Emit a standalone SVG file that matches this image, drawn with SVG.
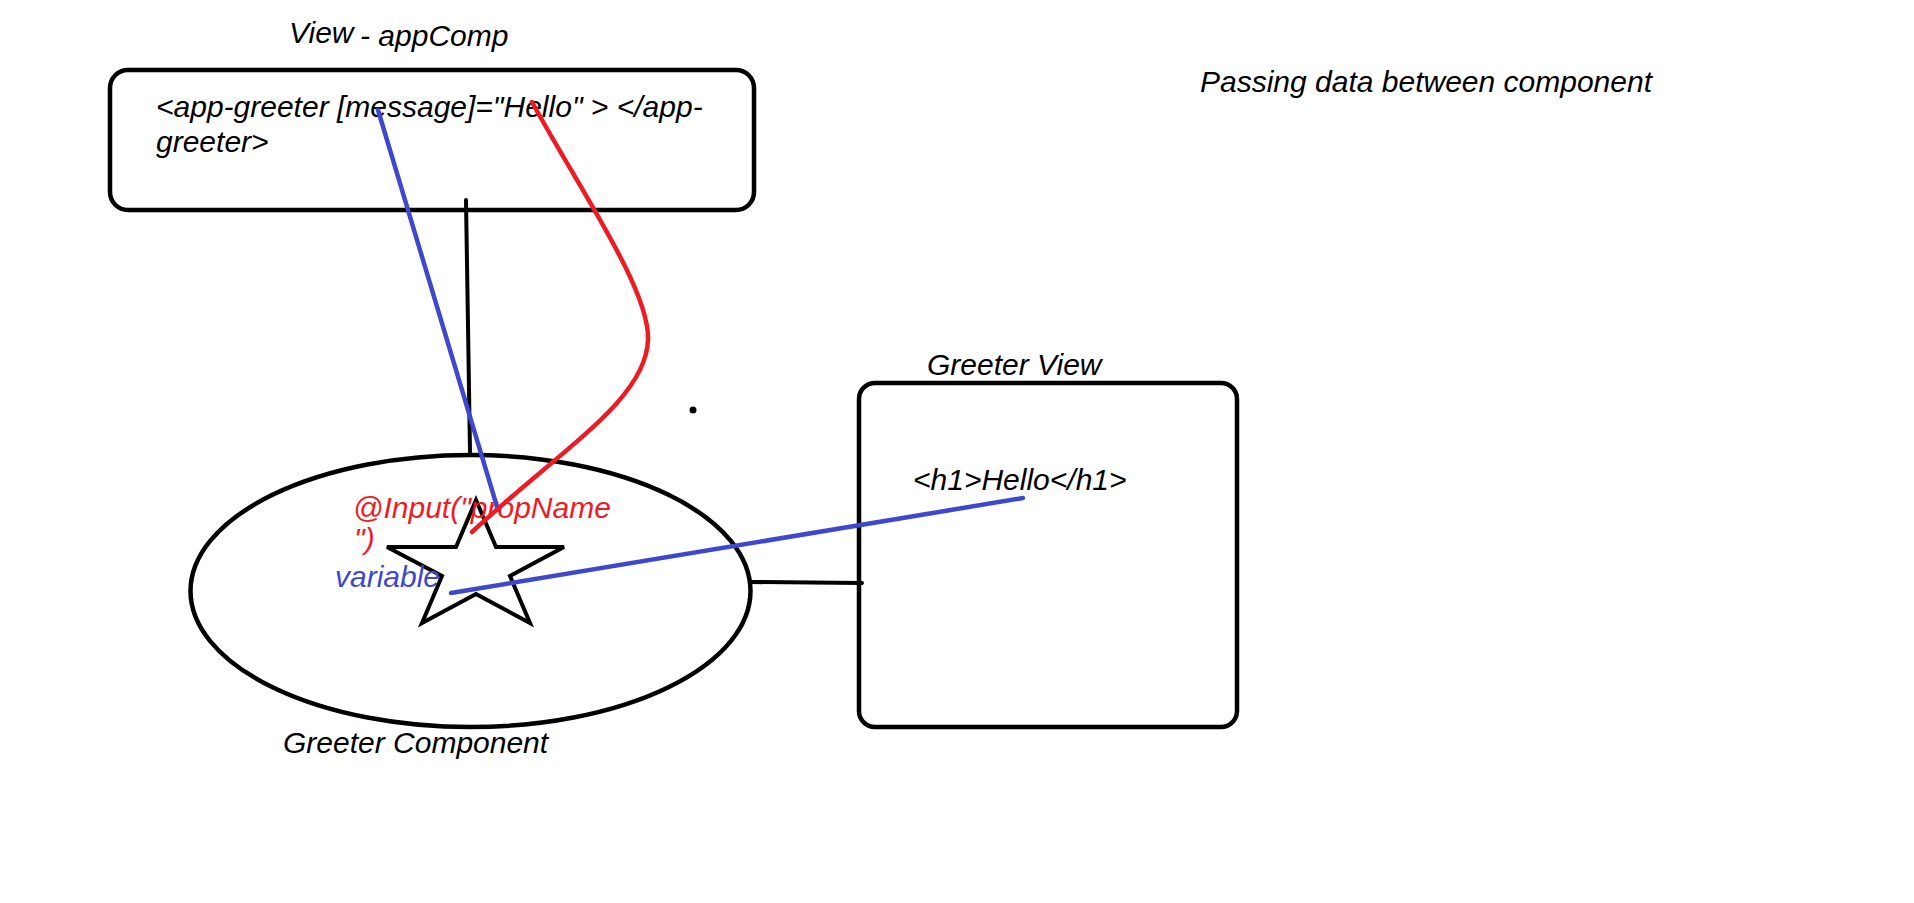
<svg xmlns="http://www.w3.org/2000/svg" width="1914" height="903" viewBox="0 0 1914 903">
<style>
text{font-family:"Liberation Sans",Arial,sans-serif;font-style:italic;font-size:30px;fill:#000}
.box{fill:none;stroke:#000;stroke-width:4.5}
.blk{fill:none;stroke:#000;stroke-width:4;stroke-linecap:round}
.blue{fill:none;stroke:#3f48cc;stroke-width:4.5;stroke-linecap:round}
.red{fill:none;stroke:#ed1c24;stroke-width:4.5;stroke-linecap:round}
.tr{fill:#ed1c24}
.tb{fill:#3f48cc}
</style>
<rect width="1914" height="903" fill="#fff"/>
<g id="title">
<text x="1200" y="92">Passing data between component</text>
</g>
<g id="node-appcomp">
<text x="289" y="43">View</text>
<text x="360" y="46">- appComp</text>
<rect class="box" x="110" y="70" width="644" height="140" rx="18"/>
<text x="156" y="117">&lt;app-greeter [message]="Hello" &gt; &lt;/app-</text>
<text x="156" y="152">greeter&gt;</text>
</g>
<g id="node-greeter-component">
<ellipse class="box" cx="470.5" cy="591" rx="280" ry="136"/>
<path class="blk" stroke-linejoin="miter" d="M476,500 L496,547 L564,547 L510,576 L530,623 L476,594 L422,623 L442,576 L387,547 L456,547 Z"/>
<text class="tr" x="353" y="518">@Input("propName</text>
<text class="tr" x="354" y="549">")</text>
<text class="tb" x="335" y="587">variable</text>
<text x="283" y="753">Greeter Component</text>
</g>
<g id="node-greeter-view">
<text x="927" y="375">Greeter View</text>
<rect class="box" x="859" y="383" width="378" height="344" rx="16"/>
<text x="913" y="490">&lt;h1&gt;Hello&lt;/h1&gt;</text>
</g>
<g id="connectors">
<path class="blk" d="M466,200 L470,452"/>
<path class="blk" d="M750,582 L862,583"/>
<path class="blue" d="M378,110 L498,510"/>
<path class="red" d="M532,102 C580,190 650,290 648,340 C646,400 560,450 472,532"/>
<path class="blue" d="M451,593 L1023,498"/>
<circle cx="693" cy="410" r="3.5" fill="#000"/>
</g>
</svg>
